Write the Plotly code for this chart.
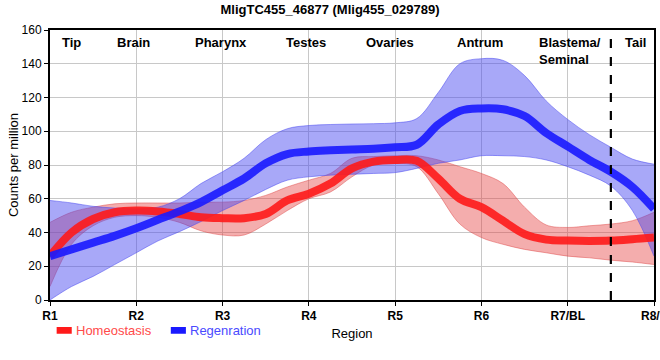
import plotly.graph_objects as go

# ---- data ----
positions = [1, 1.25, 1.5, 1.75, 2, 2.25, 2.5, 2.75, 3, 3.25, 3.5, 3.75, 4, 4.25, 4.5,
             4.75, 5, 5.25, 5.5, 5.75, 6, 6.25, 6.5, 6.75, 7, 7.25, 7.5, 7.75, 8]
hom_mean = [26, 40, 48, 52, 53, 52.5, 51, 49, 48.5, 48.5, 51, 59, 63, 69, 78,
            82, 83, 82.5, 72, 60, 55, 47, 39, 35.8, 35.2, 35, 35.2, 36, 37]
hom_upper = [46, 52, 55, 57, 57.5, 57.5, 57.5, 58, 58, 59, 62, 67, 71, 75, 84,
             85, 85.5, 85.5, 83, 79, 75, 69, 55, 44.5, 43, 44, 45, 47, 52]
hom_lower = [8, 33, 44, 49, 50, 49, 46, 41, 38.5, 38.5, 45, 53, 60, 64, 73,
             80, 81, 79, 63, 45, 37, 33, 30, 28, 26, 25, 23.6, 22.5, 21]
reg_mean = [26, 30, 34, 38, 42.5, 47.5, 52.5, 58, 65, 72, 81, 86.5, 88, 88.7, 89.2,
            89.6, 90.5, 92, 104, 112, 113.5, 113, 109, 99, 91, 83, 76, 67, 54]
reg_upper = [59, 57.5, 55.5, 54.5, 54, 55, 60, 69, 76, 84, 95, 101.5, 103.4, 104, 104.3,
             104.5, 105, 107.5, 123, 140, 143, 142, 133, 118, 107, 98, 90.5, 83.5, 80.5]
reg_lower = [0, 8, 14, 21, 28, 35, 40.5, 46.5, 53, 59, 65.5, 71, 73, 74, 74.5,
             75, 75.5, 78, 81, 83, 85.5, 85.5, 85, 83, 79, 74, 67.5, 53, 26]
tick_vals = [1, 2, 3, 4, 5, 6, 7, 8]
tick_labels = ["R1", "R2", "R3", "R4", "R5", "R6", "R7/BL", "R8/T"]
region_names = ["Tip", "Brain", "Pharynx", "Testes", "Ovaries", "Antrum", "Blastema/<br>Seminal", "Tail"]
region_pos = [1.25, 1.97, 2.98, 3.97, 4.94, 5.98, 6.64, 7.78]
tail_boundary = 7.5
series_names = ["Homeostasis", "Regenration"]

FONT = "Liberation Sans, Arial, sans-serif"
RED = "#ff1a1a"
BLUE = "#1a1aff"

fig = go.Figure()

def band(lower, upper, fill, edge):
    fig.add_trace(go.Scatter(x=positions, y=lower, mode="lines",
                             line=dict(width=1, color=edge, shape="spline"),
                             showlegend=False, hoverinfo="skip"))
    fig.add_trace(go.Scatter(x=positions, y=upper, mode="lines", fill="tonexty",
                             fillcolor=fill,
                             line=dict(width=1, color=edge, shape="spline"),
                             showlegend=False, hoverinfo="skip"))

band(hom_lower, hom_upper, "rgba(228,60,60,0.42)", "rgba(220,60,60,0.45)")
band(reg_lower, reg_upper, "rgba(70,70,240,0.47)", "rgba(70,70,240,0.5)")

fig.add_trace(go.Scatter(x=positions, y=hom_mean, mode="lines", name=series_names[0],
                         line=dict(width=8, color=RED, shape="spline"), opacity=0.9,
                         showlegend=False))
fig.add_trace(go.Scatter(x=positions, y=reg_mean, mode="lines", name=series_names[1],
                         line=dict(width=8, color=BLUE, shape="spline"), opacity=0.9,
                         showlegend=False))

# dashed boundary
fig.add_shape(type="line", x0=tail_boundary, x1=tail_boundary, y0=0, y1=1,
              xref="x", yref="paper", line=dict(color="black", width=2.2, dash="dash"))

# region labels
for name, p in zip(region_names, region_pos):
    multiline = "<br>" in name
    fig.add_annotation(x=p, y=158.5, xref="x", yref="y", text="<b>%s</b>" % name,
                       showarrow=False, xanchor="left" if multiline else "center",
                       yanchor="top", align="left",
                       font=dict(family=FONT, size=13, color="black"))

# manual legend
legend_items = [(series_names[0], RED, "#ff4a4a", 0.011), (series_names[1], BLUE, "#4a4aff", 0.2)]
for name, col, tcol, px0 in legend_items:
    fig.add_shape(type="rect", xref="paper", yref="paper",
                  x0=px0, x1=px0 + 0.025, y0=-0.125, y1=-0.1,
                  fillcolor=col, line=dict(width=0))
    fig.add_annotation(xref="paper", yref="paper", x=px0 + 0.029, y=-0.112,
                       text=name, showarrow=False, xanchor="left", yanchor="middle",
                       font=dict(family=FONT, size=13, color=tcol))

fig.update_layout(
    width=660, height=360,
    margin=dict(l=50, r=6, t=30, b=60),
    paper_bgcolor="white", plot_bgcolor="white",
    title=dict(text="<b>MligTC455_46877 (Mlig455_029789)</b>", x=0.5, xanchor="center",
               y=0.975, yanchor="middle", font=dict(family=FONT, size=13, color="black")),
    font=dict(family=FONT, size=12, color="black"),
)
fig.update_xaxes(range=[1, 8], tickmode="array", tickvals=tick_vals,
                 ticktext=["<b>%s</b>" % t for t in tick_labels],
                 automargin=False, ticklabeloverflow="allow",
                 showgrid=True, gridcolor="#c8c8c8", gridwidth=1,
                 showline=True, linecolor="black", linewidth=2, mirror=True,
                 ticks="outside", ticklen=4, tickcolor="black",
                 tickfont=dict(family=FONT, size=12, color="black"),
                 title=dict(text="Region", font=dict(family=FONT, size=13, color="black"),
                            standoff=6),
                 zeroline=False)
fig.update_yaxes(range=[0, 160], dtick=20, showgrid=True, gridcolor="#c8c8c8", gridwidth=1,
                 automargin=False,
                 showline=True, linecolor="black", linewidth=2, mirror=True,
                 ticks="outside", ticklen=4, tickcolor="black",
                 tickfont=dict(family=FONT, size=12, color="black"),
                 title=dict(text="Counts per million", font=dict(family=FONT, size=13, color="black"),
                            standoff=0),
                 zeroline=False)

fig.write_html("out.html", config={"displayModeBar": False},
               post_script="document.body.style.margin='0';document.body.style.overflow='hidden';")
